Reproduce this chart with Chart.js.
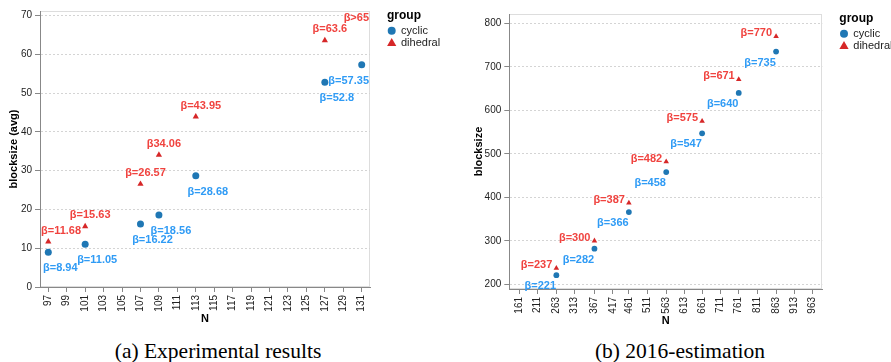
<!DOCTYPE html>
<html>
<head>
<meta charset="utf-8">
<script src="https://cdn.jsdelivr.net/npm/chart.js@4/dist/chart.umd.min.js"></script>
<style>
html,body{margin:0;padding:0;background:#fff;width:891px;height:362px;overflow:hidden;position:relative}
canvas{position:absolute;top:0}
#c1{left:0}
#c2{left:445px}
.cap{position:absolute;top:339px;line-height:24px;font-family:"Liberation Serif","DejaVu Serif",serif;font-size:21.5px;color:#000;white-space:nowrap;transform:translateX(-50%)}
</style>
</head>
<body>
<canvas id="c1" width="445" height="326" style="width:445px;height:326px"></canvas>
<canvas id="c2" width="446" height="328" style="width:446px;height:328px"></canvas>
<div class="cap" style="left:218px">(a) Experimental results</div>
<div class="cap" style="left:680px">(b) 2016-estimation</div>
<script>
// ---------- data: (a) Experimental results ----------
const expCyclicN = [97, 101, 107, 109, 113, 127, 131];
const expCyclic = [8.94, 11.05, 16.22, 18.56, 28.68, 52.8, 57.35];
const expCyclicLabels = ['β=8.94', 'β=11.05', 'β=16.22', 'β=18.56', 'β=28.68', 'β=52.8', 'β=57.35'];
const expDihedralN = [97, 101, 107, 109, 113, 127];
const expDihedral = [11.68, 15.63, 26.57, 34.06, 43.95, 63.6];
const expDihedralLabels = ['β=11.68', 'β=15.63', 'β=26.57', 'β34.06', 'β=43.95', 'β=63.6'];
const expOverflowN = [131];
const expOverflowLabels = ['β>65'];
const expXTicks = [97, 99, 101, 103, 105, 107, 109, 111, 113, 115, 117, 119, 121, 123, 125, 127, 129, 131];
const expYTicks = [0, 10, 20, 30, 40, 50, 60, 70];

// ---------- data: (b) 2016-estimation ----------
const estN = [263, 367, 461, 563, 661, 761, 863];
const estCyclic = [221, 282, 366, 458, 547, 640, 735];
const estCyclicLabels = ['β=221', 'β=282', 'β=366', 'β=458', 'β=547', 'β=640', 'β=735'];
const estDihedral = [237, 300, 387, 482, 575, 671, 770];
const estDihedralLabels = ['β=237', 'β=300', 'β=387', 'β=482', 'β=575', 'β=671', 'β=770'];
const estXTicks = [161, 211, 263, 313, 367, 417, 461, 511, 563, 613, 661, 711, 761, 811, 863, 913, 963];
const estYTicks = [200, 300, 400, 500, 600, 700, 800];

const legendNames = ['cyclic', 'dihedral'];
const legendTitle = 'group';

// ---------- styling ----------
const SANS = '"Liberation Sans", Arial, Helvetica, sans-serif';
const CYC = '#1f77b4', DIH = '#d62728';
const CYC_TXT = '#2f9bf5', DIH_TXT = '#f0433f';

function pts(xs, ys) { return xs.map((x, i) => ({ x: x, y: ys[i] })); }

function buildChart(id, o) {
  const decor = {
    id: 'decor',
    beforeDraw(chart) {
      const { ctx, chartArea: a } = chart;
      ctx.save();
      ctx.fillStyle = '#fff';
      ctx.fillRect(0, 0, chart.width, chart.height);
      ctx.strokeStyle = '#dddddd';
      ctx.lineWidth = 1;
      ctx.strokeRect(Math.round(a.left) + 0.5, Math.round(a.top) + 0.5,
        Math.round(a.right - a.left) - 1, Math.round(a.bottom - a.top) - 1);
      ctx.restore();
    },
    afterDatasetsDraw(chart) {
      const { ctx, chartArea: a } = chart;
      ctx.save();
      ctx.font = 'bold 11px ' + SANS;
      ctx.textBaseline = 'middle';
      ctx.textAlign = 'left';
      o.labelSpecs.forEach(spec => {
        const meta = chart.getDatasetMeta(spec.dataset);
        meta.data.forEach((el, i) => {
          const t = spec.texts[i];
          if (!t) return;
          const w = ctx.measureText(t).width;
          let left = spec.align === 'right' ? el.x + spec.dx - w : el.x + spec.dx - w / 2;
          if (left + w > a.right - 1) left = a.right - 1 - w;
          if (left < a.left + 1) left = a.left + 1;
          const y = spec.atTop ? a.top + 6.5 : el.y + spec.dy;
          ctx.fillStyle = spec.color;
          ctx.fillText(t, left, y);
        });
      });
      ctx.restore();
    },
    afterDraw(chart) {
      const { ctx, chartArea: a } = chart;
      const lx = a.right + 17;
      ctx.save();
      ctx.textBaseline = 'middle';
      ctx.textAlign = 'left';
      ctx.fillStyle = '#000';
      ctx.font = 'bold 12px ' + SANS;
      ctx.fillText(legendTitle, lx, a.top + 5);
      ctx.font = '11px ' + SANS;
      const cy1 = a.top + 19.7, cy2 = a.top + 31.7, sx = a.right + 21.7;
      ctx.fillStyle = CYC;
      ctx.beginPath(); ctx.arc(sx, cy1, 4, 0, Math.PI * 2); ctx.fill();
      ctx.fillStyle = DIH;
      ctx.beginPath();
      ctx.moveTo(sx, cy2 - 4.6); ctx.lineTo(sx + 4.6, cy2 + 3.4); ctx.lineTo(sx - 4.6, cy2 + 3.4);
      ctx.closePath(); ctx.fill();
      ctx.fillStyle = '#222';
      ctx.fillText(legendNames[0], a.right + 31, cy1);
      ctx.fillText(legendNames[1], a.right + 31, cy2);
      ctx.restore();
    }
  };

  return new Chart(document.getElementById(id), {
    type: 'scatter',
    data: { datasets: o.datasets },
    options: {
      responsive: false,
      animation: false,
      devicePixelRatio: 1,
      layout: { padding: o.padding },
      plugins: { legend: { display: false }, tooltip: { enabled: false } },
      scales: {
        x: {
          type: 'linear', min: o.xMin, max: o.xMax,
          afterBuildTicks: s => { s.ticks = o.xTicks.map(v => ({ value: v })); },
          afterFit: s => { s.height = o.xH; },
          grid: { drawOnChartArea: false, drawTicks: true, tickLength: 5, tickColor: '#888', color: '#888' },
          border: { display: true, color: '#888', width: 1 },
          ticks: { autoSkip: false, minRotation: 90, maxRotation: 90, padding: 3, color: '#222',
            font: { family: SANS, size: 10 }, callback: v => String(v) },
          title: { display: true, text: 'N', color: '#000', font: { family: SANS, size: 11, weight: 'bold' },
            padding: { top: 0, bottom: 0 } }
        },
        y: {
          type: 'linear', min: o.yMin, max: o.yMax,
          afterBuildTicks: s => { s.ticks = o.yTicks.map(v => ({ value: v })); },
          afterFit: s => { s.width = o.yW; },
          grid: { color: '#d4d4d4', lineWidth: 1, drawTicks: true, tickLength: 5, tickColor: '#888' },
          border: { display: true, color: '#888', width: 1, dash: [2, 2] },
          ticks: { padding: 3, color: '#222', font: { family: SANS, size: 10 }, callback: v => String(v) },
          title: { display: true, text: o.yTitle, color: '#000', font: { family: SANS, size: 11, weight: 'bold' },
            padding: { top: o.yTitlePad, bottom: 0 } }
        }
      }
    },
    plugins: [decor]
  });
}

// (a)
buildChart('c1', {
  padding: { left: 0, top: 11, right: 75, bottom: 0 },
  xMin: 96.1, xMax: 131.9, yMin: 0, yMax: 71.2,
  xTicks: expXTicks, yTicks: expYTicks, xH: 39, yW: 40,
  yTitle: 'blocksize (avg)', yTitlePad: 7.4,
  datasets: [
    { label: legendNames[0], data: pts(expCyclicN, expCyclic), pointStyle: 'circle',
      backgroundColor: CYC, borderWidth: 0, pointRadius: 3.5 },
    { label: legendNames[1], data: pts(expDihedralN, expDihedral), pointStyle: 'triangle',
      backgroundColor: DIH, borderWidth: 0, pointRadius: 3.6 },
    { label: 'overflow', data: pts(expOverflowN, expOverflowN.map(() => 71.2)), pointRadius: 0,
      backgroundColor: DIH, borderWidth: 0, clip: false }
  ],
  labelSpecs: [
    { dataset: 0, texts: expCyclicLabels, color: CYC_TXT, dx: 12, dy: 16, align: 'center' },
    { dataset: 1, texts: expDihedralLabels, color: DIH_TXT, dx: 5, dy: -11, align: 'center' },
    { dataset: 2, texts: expOverflowLabels, color: DIH_TXT, dx: 5, dy: 0, align: 'center', atTop: true }
  ]
});

// (b)
buildChart('c2', {
  padding: { left: 20, top: 14, right: 68.7, bottom: 0 },
  xMin: 134.5, xMax: 989.2, yMin: 189.2, yMax: 821.4,
  xTicks: estXTicks, yTicks: estYTicks, xH: 39, yW: 44.3,
  yTitle: 'blocksize', yTitlePad: 7.7,
  datasets: [
    { label: legendNames[0], data: pts(estN, estCyclic), pointStyle: 'circle',
      backgroundColor: CYC, borderWidth: 0, pointRadius: 2.9 },
    { label: legendNames[1], data: pts(estN, estDihedral), pointStyle: 'triangle',
      backgroundColor: DIH, borderWidth: 0, pointRadius: 3.2 }
  ],
  labelSpecs: [
    { dataset: 0, texts: estCyclicLabels, color: CYC_TXT, dx: -16, dy: 11, align: 'center' },
    { dataset: 1, texts: estDihedralLabels, color: DIH_TXT, dx: -4, dy: -3, align: 'right' }
  ]
});
</script>
</body>
</html>
